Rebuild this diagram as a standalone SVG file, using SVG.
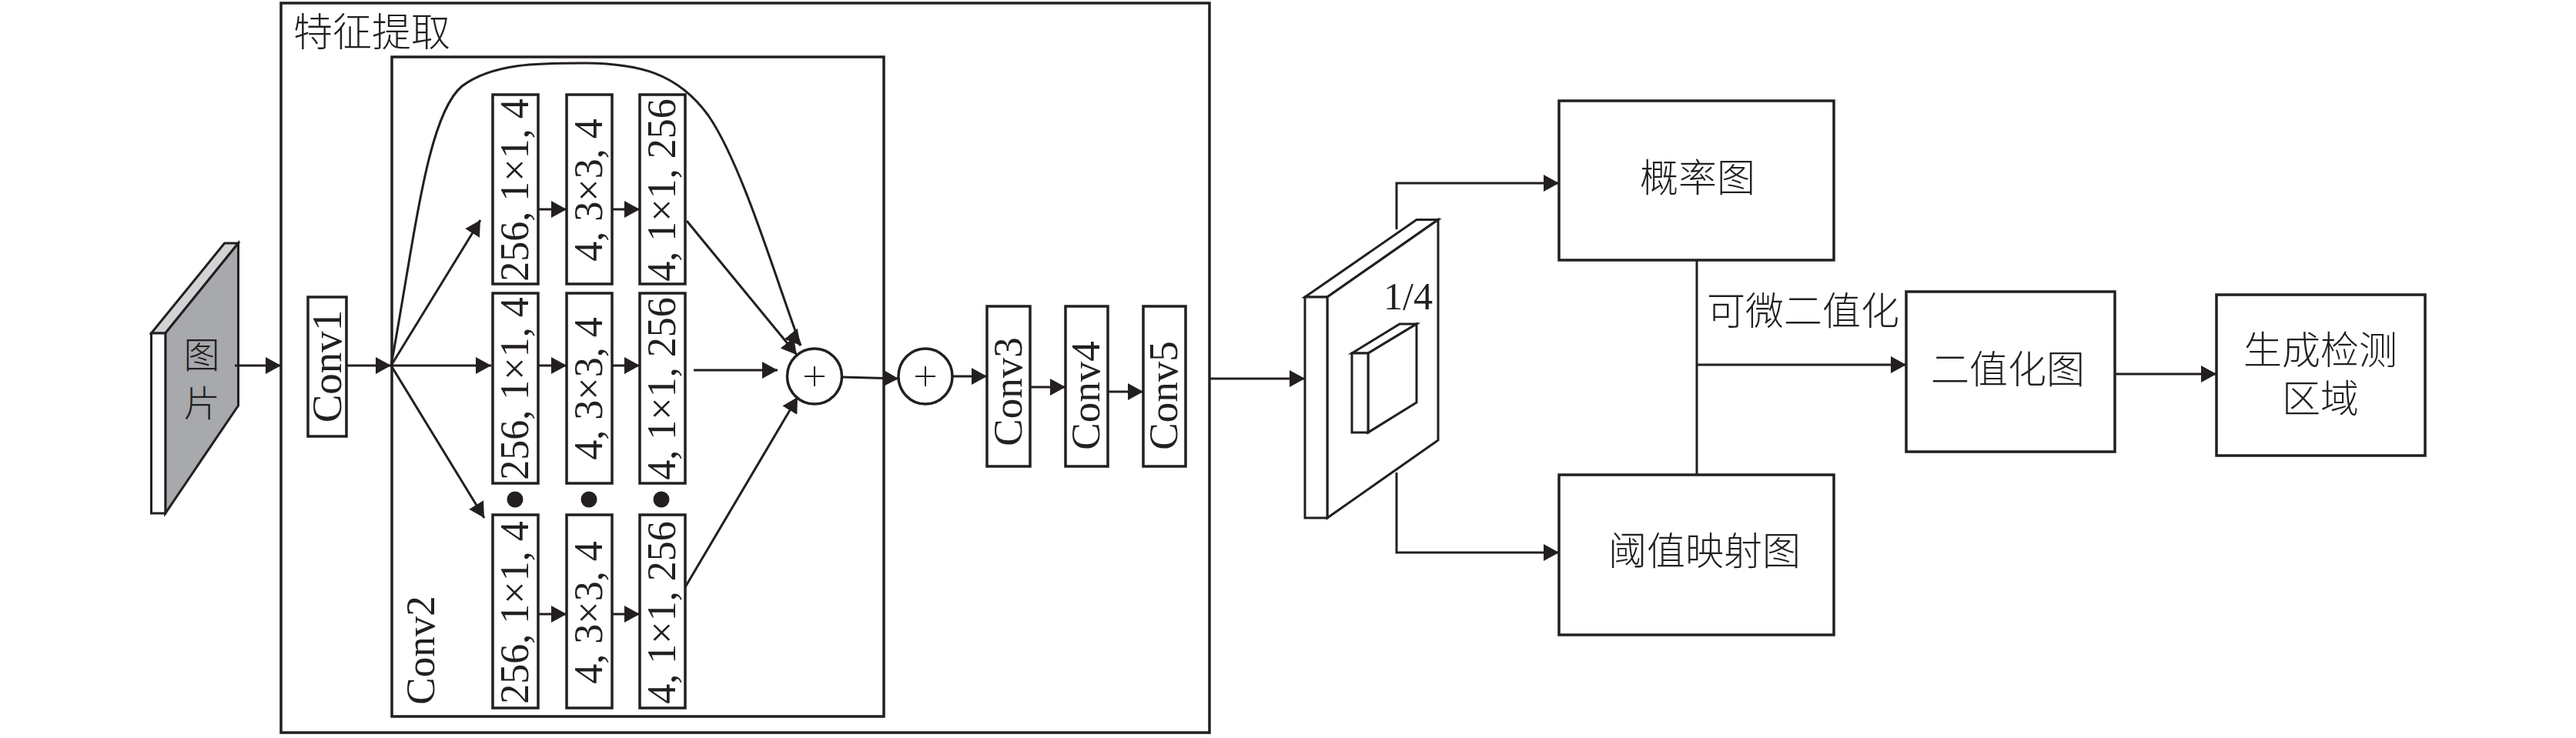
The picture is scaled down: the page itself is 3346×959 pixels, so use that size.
<svg xmlns="http://www.w3.org/2000/svg" width="3346" height="959" viewBox="0 0 3346 959">
<defs>
<style>
.bx{fill:#fff;stroke:#231f20;stroke-width:3.5}
.ln{fill:none;stroke:#231f20;stroke-width:3}
.ar{fill:none;stroke:#231f20;stroke-width:3;marker-end:url(#ah)}
.th{fill:none;stroke:#231f20;stroke-width:2}
.lt{font-family:"Liberation Serif","Times New Roman",serif;fill:#231f20}
.cj{font-family:"Liberation Serif","Noto Sans CJK SC",sans-serif;fill:#231f20;font-size:50px;font-weight:300}
.col{font-size:52px;text-anchor:middle}
.cv{font-size:53px;text-anchor:middle}
</style>
<marker id="ah" viewBox="0 0 20 22" refX="20" refY="11" markerWidth="20" markerHeight="22" markerUnits="userSpaceOnUse" orient="auto">
<path d="M0,0 L20,11 L0,22 z" fill="#231f20"/>
</marker>
</defs>
<rect width="3346" height="959" fill="#fff"/>

<g id="input-image">
<polygon points="196.5,433 291.6,316 309.5,316 214.8,433" fill="#d1d3d4" stroke="#231f20" stroke-width="3"/>
<polygon points="214.8,433 309.5,316 309.5,527 214.8,667" fill="#a7a9ac" stroke="#231f20" stroke-width="3"/>
<rect x="196.5" y="433" width="18.3" height="234" fill="#fff" stroke="#231f20" stroke-width="3"/>
<text class="cj" x="262" y="478" text-anchor="middle" style="font-size:47px">图</text>
<text class="cj" x="262" y="541" text-anchor="middle" style="font-size:47px">片</text>
</g>

<g id="feature-extraction">
<rect class="bx" x="365" y="4" width="1206" height="948"/>
<text class="cj" x="381" y="60" style="font-size:51px">特征提取</text>
</g>

<g id="conv2">
<rect class="bx" x="509" y="74" width="639" height="857"/>
<text class="lt cv" transform="translate(564,845) rotate(-90)">Conv2</text>
</g>

<g id="conv1">
<rect class="bx" x="400" y="386" width="50" height="181"/>
<text class="lt cv" transform="translate(443,476) rotate(-90)" style="font-size:55px">Conv1</text>
</g>

<g id="r1a"><rect class="bx" x="640" y="123" width="59" height="246"/><text class="lt col" transform="translate(686,247) rotate(-90)">256, 1×1, 4</text></g>
<g id="r1b"><rect class="bx" x="736" y="123" width="59" height="246"/><text class="lt col" transform="translate(782,247) rotate(-90)">4, 3×3, 4</text></g>
<g id="r1c"><rect class="bx" x="831" y="123" width="59" height="246"/><text class="lt col" transform="translate(877,247) rotate(-90)">4, 1×1, 256</text></g>
<g id="r2a"><rect class="bx" x="640" y="381" width="59" height="247"/><text class="lt col" transform="translate(686,505) rotate(-90)">256, 1×1, 4</text></g>
<g id="r2b"><rect class="bx" x="736" y="381" width="59" height="247"/><text class="lt col" transform="translate(782,505) rotate(-90)">4, 3×3, 4</text></g>
<g id="r2c"><rect class="bx" x="831" y="381" width="59" height="247"/><text class="lt col" transform="translate(877,505) rotate(-90)">4, 1×1, 256</text></g>
<g id="r3a"><rect class="bx" x="640" y="669" width="59" height="251"/><text class="lt col" transform="translate(686,796) rotate(-90)">256, 1×1, 4</text></g>
<g id="r3b"><rect class="bx" x="736" y="669" width="59" height="251"/><text class="lt col" transform="translate(782,796) rotate(-90)">4, 3×3, 4</text></g>
<g id="r3c"><rect class="bx" x="831" y="669" width="59" height="251"/><text class="lt col" transform="translate(877,796) rotate(-90)">4, 1×1, 256</text></g>

<g id="dots" fill="#231f20">
<circle cx="669" cy="649" r="10.5"/>
<circle cx="765" cy="649" r="10.5"/>
<circle cx="859" cy="649" r="10.5"/>
</g>

<g id="sum1">
<ellipse class="bx" cx="1058" cy="489" rx="35.5" ry="36"/>
<path class="th" d="M1045,489 H1071 M1058,476 V502"/>
</g>
<g id="sum2">
<ellipse class="bx" cx="1202" cy="489" rx="35" ry="36"/>
<path class="th" d="M1189,489 H1215 M1202,476 V502"/>
</g>

<g id="conv3"><rect class="bx" x="1282" y="398" width="56" height="208"/><text class="lt cv" transform="translate(1327,509) rotate(-90)">Conv3</text></g>
<g id="conv4"><rect class="bx" x="1384" y="398" width="55" height="208"/><text class="lt cv" transform="translate(1428,514) rotate(-90)">Conv4</text></g>
<g id="conv5"><rect class="bx" x="1485" y="398" width="55" height="208"/><text class="lt cv" transform="translate(1529,514) rotate(-90)">Conv5</text></g>

<g id="feature-map">
<polygon points="1695,386 1840,285.5 1868,285.5 1724,386" fill="#fff" stroke="#231f20" stroke-width="3"/>
<polygon points="1724,386 1868,285.5 1868,572 1724,673" fill="#fff" stroke="#231f20" stroke-width="3"/>
<rect x="1695" y="386" width="29" height="287" fill="#fff" stroke="#231f20" stroke-width="3"/>
<polygon points="1756,459 1818,421 1840,421 1777,459" fill="#fff" stroke="#231f20" stroke-width="3"/>
<polygon points="1777,459 1840,421 1840,523 1777,562" fill="#fff" stroke="#231f20" stroke-width="3"/>
<rect x="1756" y="459" width="21" height="103" fill="#fff" stroke="#231f20" stroke-width="3"/>
<text class="lt" x="1797" y="402" style="font-size:50px">1/4</text>
</g>

<g id="prob-map">
<rect class="bx" x="2025" y="131" width="357" height="207"/>
<text class="cj" x="2205" y="249" text-anchor="middle">概率图</text>
</g>
<g id="thresh-map">
<rect class="bx" x="2025" y="617" width="357" height="208"/>
<text class="cj" x="2214" y="734" text-anchor="middle">阈值映射图</text>
</g>
<g id="binary-map">
<rect class="bx" x="2476" y="379" width="271" height="208"/>
<text class="cj" x="2608" y="498" text-anchor="middle">二值化图</text>
</g>
<g id="result">
<rect class="bx" x="2879" y="383" width="271" height="209"/>
<text class="cj" x="3014" y="473" text-anchor="middle">生成检测</text>
<text class="cj" x="3014" y="536" text-anchor="middle">区域</text>
</g>
<text class="cj" x="2217" y="422">可微二值化</text>

<g id="connectors">
<path class="ar" d="M305,475 H365"/>
<path class="ar" d="M450,475 H508"/>
<path class="ln" d="M508,475 C540,300 555,150 600,112 C640,82 700,82 756,82 C830,82 880,95 920,150 C965,215 1010,370 1040,449"/>
<path class="ar" d="M1030,437 L1040,449"/>
<path class="ar" d="M508,475 L624,286"/>
<path class="ar" d="M508,475 H638"/>
<path class="ar" d="M508,475 L629,673"/>
<path class="ar" d="M699,272 H736"/>
<path class="ar" d="M795,272 H831"/>
<path class="ar" d="M699,475 H736"/>
<path class="ar" d="M795,475 H831"/>
<path class="ar" d="M699,798 H736"/>
<path class="ar" d="M795,798 H831"/>
<path class="ar" d="M892,287 L1035,461"/>
<path class="ar" d="M901,481 H1010"/>
<path class="ar" d="M890,763 L1036,516"/>
<path class="ar" d="M1094,490 L1167,492"/>
<path class="ar" d="M1237,489 H1282"/>
<path class="ar" d="M1338,503 H1384"/>
<path class="ar" d="M1439,509 H1485"/>
<path class="ar" d="M1571,492 H1695"/>
<path class="ar" d="M1814,298 V238 H2025"/>
<path class="ar" d="M1814,614 V718 H2025"/>
<path class="ln" d="M2204,338 V617"/>
<path class="ar" d="M2204,474 H2476"/>
<path class="ar" d="M2747,486 H2879"/>
</g>
</svg>
